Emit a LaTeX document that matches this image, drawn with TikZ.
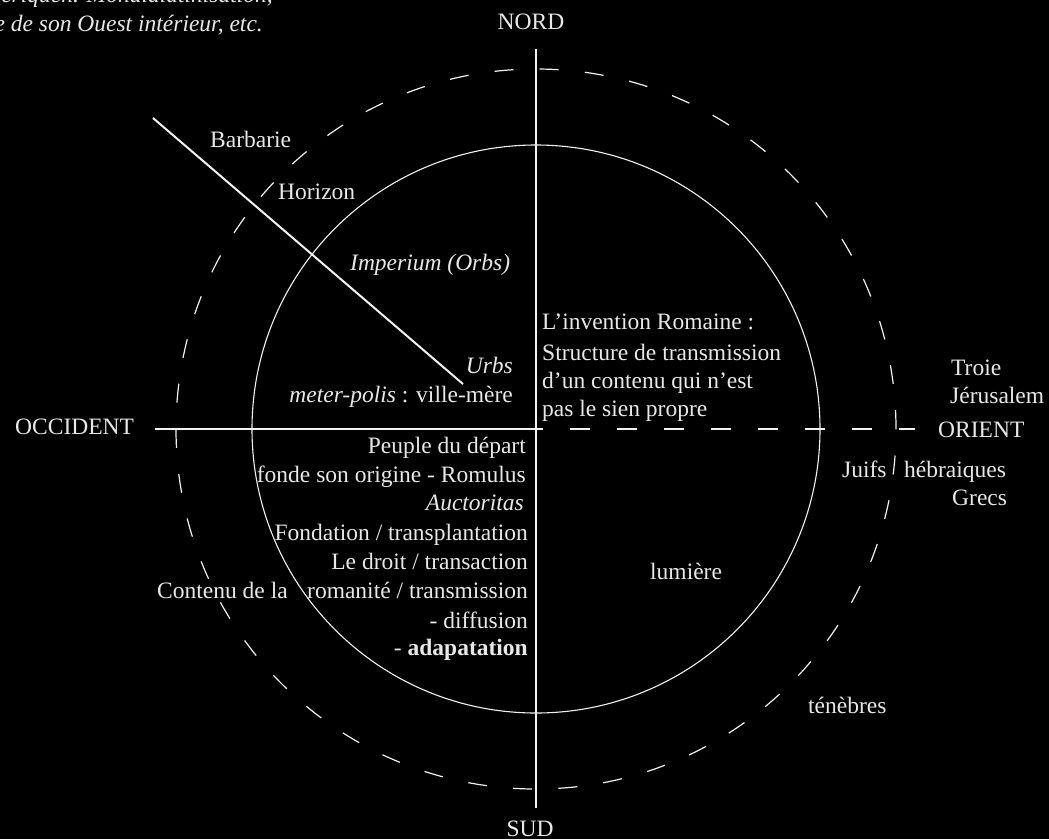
\documentclass[tikz,border=0pt]{standalone}
\usepackage{fontspec}
\setmainfont{Liberation Serif}
\definecolor{txt}{HTML}{E8E8E8}
\definecolor{lnc}{HTML}{F2F2F2}
\begin{document}
\begin{tikzpicture}[x=1pt,y=-1pt,
  lbl/.style={inner sep=0pt, text=txt, font=\fontsize{23.5}{29.3}\selectfont},
  ln/.style={draw=lnc, line width=1.1pt},
  dashln/.style={draw=lnc, line width=1.2pt, dash pattern=on 20pt off 27pt, dash phase=13pt},
  dashcirc/.style={draw=lnc, line width=1.2pt, dash pattern=on 19pt off 26.239pt},
  diag/.style={draw=lnc, line width=2pt}]
\fill[black] (0,0) rectangle (1049,839);
\useasboundingbox (0,0) rectangle (1049,839);
% geometry
\coordinate (O) at (536,429);
\coordinate (N) at (536,49);
\coordinate (S) at (536,808);
\coordinate (W) at (155,429);
\coordinate (E) at (915,429);
\coordinate (d1) at (153,118);
\coordinate (d2) at (463,384);
\draw[ln] (O) circle[radius=284pt];
\draw[dashcirc] (O) circle[radius=360pt];
\draw[ln] (N) -- (S);
\draw[ln] (W) -- (O);
\draw[dashln] (O) -- (E);
\draw[diag] (d1) -- (d2);
% top-left cut text
\node[lbl, anchor=base east, font=\fontsize{23.5}{29.3}\selectfont\itshape] (tl1) at (273,2) {Amériquen. Mondialatinisation,};
\node[lbl, anchor=base east, font=\fontsize{23.5}{29.3}\selectfont\itshape] (tl2) at (263,31) {Europe de son Ouest intérieur, etc.};
% compass
\node[lbl, anchor=base] (nord) at (531,29) {NORD};
\node[lbl, anchor=base] (sud) at (530,836) {SUD};
\node[lbl, anchor=base west] (occ) at (15,434) {OCCIDENT};
\node[lbl, anchor=base west] (ori) at (938,437) {ORIENT};
% upper left
\node[lbl, anchor=base west] (barb) at (210,147) {Barbarie};
\node[lbl, anchor=base west] (hor) at (278,199) {Horizon};
\node[lbl, anchor=base west] (imp) at (350,270) {\itshape Imperium (Orbs)};
\node[lbl, anchor=base east] (urbs) at (513,373) {\itshape Urbs};
\node[lbl, anchor=base east] (meter) at (513,402) {\textit{meter-polis} : ville-mère};
% upper right
\node[lbl, anchor=base west] (inv1) at (542,329) {L’invention Romaine :};
\node[lbl, anchor=base west] (inv2) at (542,360) {Structure de transmission};
\node[lbl, anchor=base west] (inv3) at (542,388) {d’un contenu qui n’est};
\node[lbl, anchor=base west] (inv4) at (542,416) {pas le sien propre};
% east labels
\node[lbl, anchor=base west] (troie) at (951,375) {Troie};
\node[lbl, anchor=base west] (jer) at (950,403) {Jérusalem};
\node[lbl, anchor=base west] (juifs) at (842,477) {Juifs};
\node[lbl, anchor=base west] (hebr) at (904,477) {hébraiques};
\node[lbl, anchor=base west] (grecs) at (952,505) {Grecs};
% lower left
\node[lbl, anchor=base east] (p1) at (526,453) {Peuple du départ};
\node[lbl, anchor=base east] (p2) at (526,482) {fonde son origine - Romulus};
\node[lbl, anchor=base east] (p3) at (524,510) {\itshape Auctoritas};
\node[lbl, anchor=base east] (p4) at (528,540) {Fondation / transplantation};
\node[lbl, anchor=base east] (p5) at (528,569) {Le droit / transaction};
\node[lbl, anchor=base east] (p6) at (528,598) {romanité / transmission};
\node[lbl, anchor=base east] (p7) at (528,628) {- diffusion};
\node[lbl, anchor=base east] (p8) at (528,655) {- \textbf{adapatation}};
\node[lbl, anchor=base west] (cont) at (157,598) {Contenu de la};
% lower right
\node[lbl, anchor=base west] (lum) at (650,579) {lumière};
\node[lbl, anchor=base west] (ten) at (808,713) {ténèbres};
\end{tikzpicture}
\end{document}
